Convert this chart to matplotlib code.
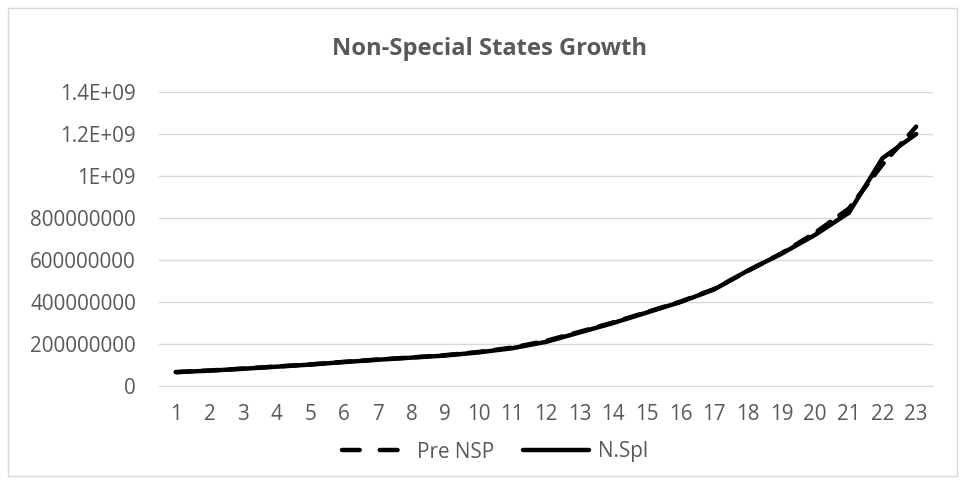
import matplotlib
matplotlib.use("Agg")
import matplotlib.pyplot as plt
from matplotlib.patches import Rectangle
from matplotlib.lines import Line2D

x_labels = list(range(1, 24))
pre_nsp = [66e6, 74e6, 83e6, 93e6, 103e6, 115e6, 126e6, 136e6, 147e6, 162e6, 183e6, 215e6,
           258e6, 303e6, 352e6, 402e6, 462e6, 548e6, 632e6, 730e6, 845e6, 1055e6, 1235e6]
n_spl = [66e6, 73e6, 82e6, 92e6, 102e6, 114e6, 125e6, 135e6, 145e6, 160e6, 180e6, 210e6,
         255e6, 300e6, 350e6, 400e6, 460e6, 550e6, 630e6, 720e6, 825e6, 1085e6, 1200e6]
y_ticks = [0, 2e8, 4e8, 6e8, 8e8, 1e9, 1.2e9, 1.4e9]
y_tick_labels = ["0", "200000000", "400000000", "600000000", "800000000", "1E+09", "1.2E+09", "1.4E+09"]
title = "Non-Special States Growth"

plt.rcParams['font.family'] = ['Open Sans', 'DejaVu Sans']
gray = "#595959"
W, H = 965, 484

fig = plt.figure(figsize=(W / 100, H / 100), dpi=100)
renderer = fig.canvas.get_renderer()


def fit_size(s, target_px, weight="normal", base=12.0):
    t = fig.text(0, 0, s, fontsize=base, fontweight=weight)
    w = t.get_window_extent(renderer).width
    t.remove()
    return base * target_px / w


tick_fs = fit_size("800000000", 107)
title_fs = fit_size(title, 315, weight="bold")
leg_fs = fit_size("Pre NSP", 77)

fig.patches.append(Rectangle((8 / W, 1 - 476 / H), 949 / W, 468 / H, transform=fig.transFigure,
                             fill=False, edgecolor="#d9d9d9", linewidth=1))
ax = fig.add_axes([159 / W, 1 - 386 / H, 774 / W, (386 - 92) / H])

ax.plot(x_labels, pre_nsp, color="black", linewidth=3.2, linestyle=(0, (3.5, 2.5)),
        solid_capstyle="round", dash_capstyle="round", label="Pre NSP", zorder=3)
ax.plot(x_labels, n_spl, color="black", linewidth=3.2, solid_capstyle="round",
        label="N.Spl", zorder=3)

ax.set_xlim(0.5, 23.5)
ax.set_ylim(0, 1.4e9)
ax.set_yticks(y_ticks)
ax.set_yticklabels(y_tick_labels)
ax.set_xticks(x_labels)
ax.set_xticklabels([str(v) for v in x_labels])
ax.tick_params(axis="both", length=0, labelsize=tick_fs, labelcolor=gray)
ax.tick_params(axis="y", pad=16.5)
ax.tick_params(axis="x", pad=13)
ax.grid(axis="y", color="#d9d9d9", linewidth=1)
ax.set_axisbelow(True)
for s in ["top", "right", "left"]:
    ax.spines[s].set_visible(False)
ax.spines["bottom"].set_color("#d9d9d9")

fig.text(490 / W, 1 - 55 / H, title, ha="center", va="baseline",
         fontsize=title_fs, fontweight="bold", color=gray)

h1 = Line2D([], [], color="black", linewidth=3.2, linestyle=(0, (4.0, 4.5)),
            dash_capstyle="round")
h2 = Line2D([], [], color="black", linewidth=3.2, solid_capstyle="round")
leg = fig.legend([h1, h2], ["Pre NSP", "N.Spl"], loc="center",
                 bbox_to_anchor=(495 / W, 1 - 452 / H), ncol=2, frameon=False,
                 fontsize=leg_fs, handlelength=3.2, columnspacing=1.4, handletextpad=0.4)
for t in leg.get_texts():
    t.set_color(gray)

fig.savefig("out.png", dpi=100)
